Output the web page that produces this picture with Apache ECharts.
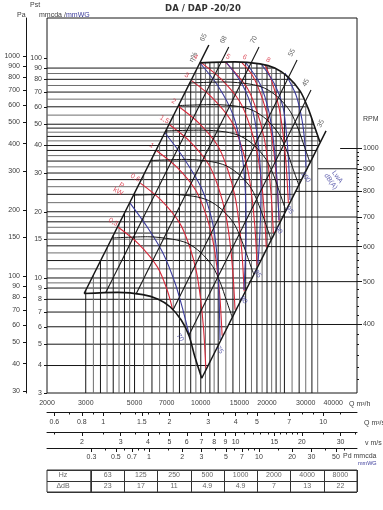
<!DOCTYPE html>
<html>
<head>
<meta charset="utf-8">
<title>DA / DAP -20/20</title>
<script src="https://cdn.jsdelivr.net/npm/echarts@6.0.0/dist/echarts.min.js"></script>
<style>
  html, body { margin: 0; padding: 0; background: #ffffff; }
  #chart { width: 383px; height: 510px; }
</style>
</head>
<body>
<div id="chart"></div>
<script>
// ======================= DATA =======================
const qRange   = [2000, 51300];   // Q m3/h (log)
const pRange   = [3, 152];         // Pst mmWG (log)
const rpmRange = [280, 1973];      // RPM scale (log)

const qTicks   = [2000, 3000, 5000, 7000, 10000, 15000, 20000, 30000, 40000];
const qsTicks  = [0.6, 0.8, 1, 1.5, 2, 3, 4, 5, 7, 10];
const qsMinor  = [0.7, 0.9, 1.2, 1.4, 1.6, 1.8, 2.5, 3.5, 4.5, 6, 8, 9, 12];
const vTicks   = [2, 3, 4, 5, 6, 7, 8, 9, 10, 15, 20, 30];
const vMinor   = [1.5, 2.5, 3.5, 4.5, 11, 12, 13, 14, 16, 17, 18, 19, 25, 35];
const pdTicks  = [0.3, 0.5, 0.7, 1, 2, 3, 5, 7, 10, 20, 30, 50];
const pdMinor  = [0.4, 0.6, 0.8, 0.9, 1.5, 4, 6, 8, 9, 15, 40, 60];
const pstTicks = [3, 4, 5, 6, 7, 8, 9, 10, 15, 20, 30, 40, 50, 60, 70, 80, 90, 100];
const paTicks  = [30, 40, 50, 60, 70, 80, 90, 100, 150, 200, 300, 400, 500, 600, 700, 800, 900, 1000];
const rpmTicks = [400, 500, 600, 700, 800, 900, 1000];
const rpmMinor = [300, 320, 340, 360, 380, 420, 440, 460, 480, 520, 540, 560, 580, 620, 640, 660, 680,
                  720, 740, 760, 780, 820, 840, 860, 880, 920, 940, 960, 980];

const gridP = [4, 5, 6, 7, 8, 9, 9.5, 10, 11, 12, 13, 14, 15, 16, 17, 18, 19, 20, 22, 24, 26, 28, 30,
               32, 34, 36, 38, 40, 42, 44, 46, 48, 50, 55, 60, 65, 70, 75, 80, 85, 90];
const gridPDark = [4, 5, 6, 7, 8, 9, 10, 12, 14, 16, 18, 20, 24, 28, 30, 34, 38, 40, 44, 48, 50, 60, 70, 80, 90];
const gridQ = [3000, 3250, 3500, 3750, 4000, 4250, 4500, 4750, 5000, 5500, 6000, 6500, 7000, 7500, 8000,
               8500, 9000, 9500, 10000, 10500, 11000, 11500, 12000, 13000, 14000, 15000, 16000, 17000,
               18000, 19000, 20000, 21000, 22000, 23000, 24000, 26000, 28000, 30000, 32000, 34000];

const fanRpm = [1000, 900, 800, 700, 600, 500, 400, 300];
const fanCurvePts = [
  [[9900,95],[14300,96],[18600,94],[21700,90],[24900,82],[28300,70.7],[30700,59.3],[32700,49.6],[34800,41.5]],
  [[8910,77.0],[12870,77.8],[16740,76.1],[19530,72.9],[22410,66.4],[25470,57.3],[27630,48.0],[29430,40.2],[31320,33.6]],
  [[7920,60.8],[11440,61.4],[14880,60.2],[17360,57.6],[19920,52.5],[22640,45.2],[24560,38.0],[26160,31.7],[27840,26.6]],
  [[6930,46.6],[10010,47.0],[13020,46.1],[15190,44.1],[17430,40.2],[19810,34.6],[21490,29.1],[22890,24.3],[24360,20.3]],
  [[5940,34.2],[8580,34.6],[11160,33.8],[13020,32.4],[14940,29.5],[16980,25.5],[18420,21.3],[19620,17.9],[20880,14.9]],
  [[4950,23.8],[7150,24.0],[9300,23.5],[10850,22.5],[12450,20.5],[14150,17.7],[15350,14.8],[16350,12.4],[17400,10.4]],
  [[3960,15.2],[5720,15.4],[7440,15.0],[8680,14.4],[9960,13.1],[11320,11.3],[12280,9.5],[13080,7.9],[13920,6.6]],
  [[2950,8.5],[4200,8.6],[5450,8.4],[6400,8.0],[7250,7.4],[8150,6.44],[8850,5.45],[9400,4.38],[10100,3.5]]
];

const etaLabels = ['65', '68', '70', '55', '45', '35'];
const etaLinePts = [
  [[2950,8.5],[10880,114.6]],
  [[3700,8.6],[13400,112.2]],
  [[5080,8.45],[18400,112.2]],
  [[7480,7.16],[27400,97.9]],
  [[8840,5.51],[31700,71.5]],
  [[10100,3.5],[37100,46.6]]
];

const powerLabels = ['0,3', '0,6', '1', '1,5', '2', '3', '4', '5', '6', '8'];
const powerCurvePts = [
  [[4217,17.0],[5212,14.3],[6359,11.2],[7059,8.73],[7455,7.15]],
  [[5313,27.0],[6567,22.7],[8012,17.8],[8894,13.9],[9569,10.6],[9978,8.05],[10297,5.87],[10546,3.89]],
  [[6300,37.9],[7787,31.9],[9500,25.0],[10546,19.5],[11346,14.8],[11831,11.3],[12209,8.26],[12506,5.47]],
  [[7211,49.7],[8913,41.8],[10874,32.8],[12071,25.5],[12987,19.4],[13542,14.8],[13975,10.8],[14314,7.17]],
  [[7937,60.2],[9810,50.6],[11969,39.8],[13287,30.9],[14295,23.6],[14905,18.0],[15382,13.1],[15755,8.69]],
  [[9087,78.9],[11232,66.3],[13703,52.1],[15211,40.5],[16366,30.9],[17065,23.5],[17611,17.2],[18038,11.4]],
  [[10000,95.5],[12360,80.3],[15080,63.1],[16740,49.1],[18010,37.4],[18780,28.5],[19380,20.8],[19850,13.8]],
  [[12860,95.8],[13314,93.1],[16244,73.2],[18032,57.0],[19401,43.4],[20230,33.1],[20876,24.1],[21382,16.0]],
  [[15330,95.5],[17262,82.7],[19162,64.3],[20616,49.0],[21498,37.3],[22184,27.3],[22722,18.1]],
  [[19610,92.8],[21092,77.9],[22693,59.4],[23663,45.2],[24419,33.0],[25011,21.9]]
];

const noiseLabels = ['70', '75', '80', '85', '90', '95', '100'];
const noiseCurvePts = [
  [[4770,21.9],[5700,17.1],[6730,13.0],[7640,9.49],[8300,7.15],[8930,5.34]],
  [[6880,45.6],[8300,35.5],[10020,25.9],[11250,18.3],[11850,12.7],[12100,8.37],[12230,5.23]],
  [[9920,94.9],[11980,74.6],[14020,55.1],[15240,39.0],[15890,26.5],[16060,16.5],[15720,8.82]],
  [[13020,95.9],[15400,76.2],[17270,56.8],[18390,38.2],[18780,25.1],[18590,16.5],[18200,11.6]],
  [[16060,94.9],[18590,76.2],[20420,56.8],[21520,40.2],[22210,27.9],[22680,18.3]],
  [[18980,92.9],[21750,75.4],[23650,59.9],[24660,42.4],[25180,31.0],[25440,22.6]],
  [[24150,85.5],[27090,67.9],[28850,52.3],[29770,40.2],[30080,31.9]]
];

const rpmLineRpm    = [1000, 900, 800, 700, 600, 500, 400];
const rpmLineStartQ = [43000, 34100, 26800, 23300, 19900, 16600, 13300];

const hzBands = ['63', '125', '250', '500', '1000', '2000', '4000', '8000'];
const deltaDb = ['23', '17', '11', '4.9', '4.9', '7', '13', '22'];
const tableRowNames = ['Hz', '\u0394dB'];

const MMWG_TO_PA = 9.80665;
const OUTLET_AREA = 0.4;    // m2  (v = Q / area)
const PD_COEF = 0.0613;     // mmWG per (m/s)^2

// ======================= RENDERING =======================
const FONT = '"Liberation Sans", Arial, sans-serif';
const TXT = '#3c3c3c', BLACK = '#161616', GREY = '#6e6e6e', RED = '#d62839', BLUE = '#3c3c9c';
const L = Math.log10;
const toXY = (pt) => [L(pt[0]), L(pt[1])];

function labelFmt(list) {
  return function (v) {
    for (const t of list) if (Math.abs(L(t) - v) < 1e-6) return String(t);
    return '';
  };
}
function logInterp(x, x0, y0, x1, y1) {
  const t = (L(x) - L(x0)) / (L(x1) - L(x0));
  return Math.pow(10, L(y0) + t * (L(y1) - L(y0)));
}
function upperBoundaryP(q) {
  const top = fanCurvePts[0];
  if (q <= top[0][0]) { const a = etaLinePts[0][0], b = etaLinePts[0][1]; return logInterp(q, a[0], a[1], b[0], b[1]); }
  for (let i = 0; i < top.length - 1; i++) {
    const a = top[i], b = top[i + 1];
    if (q >= a[0] && q <= b[0]) return logInterp(q, a[0], a[1], b[0], b[1]);
  }
  return null;
}
function rightBoundaryQ(p) {
  const top = fanCurvePts[0];
  const end = top[top.length - 1];
  if (p >= end[1]) {
    for (let i = top.length - 1; i > 0; i--) {
      const a = top[i], b = top[i - 1];
      if (p >= a[1] && p <= b[1]) return logInterp(p, a[1], a[0], b[1], b[0]);
    }
    return top[1][0];
  }
  const r = etaLinePts[etaLinePts.length - 1];
  return logInterp(p, r[0][1], r[0][0], r[1][1], r[1][0]);
}

function valAxis(o) {
  return Object.assign({
    type: 'value', splitLine: { show: false }, axisLine: { show: false, onZero: false },
    axisTick: { show: false }, axisLabel: { show: false }
  }, o);
}
function lbl(list, margin, extra) {
  return Object.assign({ show: true, customValues: list.map(L), formatter: labelFmt(list), margin: margin,
    fontSize: 7, color: TXT, fontFamily: FONT }, extra || {});
}
function tck(list, len) {
  return { show: true, customValues: list.map(L), length: len, lineStyle: { color: BLACK, width: 1 } };
}

const qsRange = [qRange[0] / 3600, qRange[1] / 3600];
const vRange  = [qsRange[0] / OUTLET_AREA, qsRange[1] / OUTLET_AREA];
const pdRange = [PD_COEF * vRange[0] * vRange[0], PD_COEF * vRange[1] * vRange[1]];
const AXLINE = { show: true, onZero: false, lineStyle: { color: BLACK, width: 1 } };
const NOLINE = { show: false, onZero: false };

const xAxes = [
  valAxis({ gridIndex: 0, position: 'bottom', min: L(qRange[0]), max: L(qRange[1]), axisLine: NOLINE, axisLabel: lbl(qTicks, 7) }),
  valAxis({ gridIndex: 0, position: 'bottom', offset: 19, min: L(qsRange[0]), max: L(qsRange[1]),
            axisLine: AXLINE, axisTick: tck(qsTicks, 4), axisLabel: lbl(qsTicks, 7) }),
  valAxis({ gridIndex: 0, position: 'bottom', offset: 19, min: L(qsRange[0]), max: L(qsRange[1]), axisLine: NOLINE, axisTick: tck(qsMinor, 2.5) }),
  valAxis({ gridIndex: 0, position: 'bottom', offset: 39, min: L(vRange[0]), max: L(vRange[1]),
            axisLine: AXLINE, axisTick: tck(vTicks, 4), axisLabel: lbl(vTicks, 7) }),
  valAxis({ gridIndex: 0, position: 'bottom', offset: 39, min: L(vRange[0]), max: L(vRange[1]), axisLine: NOLINE, axisTick: tck(vMinor, 2.5) }),
  valAxis({ gridIndex: 0, position: 'bottom', offset: 55, min: L(pdRange[0]), max: L(pdRange[1]),
            axisLine: AXLINE, axisTick: tck(pdTicks, 4), axisLabel: lbl(pdTicks, 6) }),
  valAxis({ gridIndex: 0, position: 'bottom', offset: 55, min: L(pdRange[0]), max: L(pdRange[1]), axisLine: NOLINE, axisTick: tck(pdMinor, 2.5) }),
  { type: 'category', gridIndex: 1, data: ['h'], axisLine: NOLINE, axisTick: { show: false }, axisLabel: { show: false }, splitLine: { show: false } },
  { type: 'category', gridIndex: 2, data: hzBands, axisLine: NOLINE, axisTick: { show: false }, axisLabel: { show: false },
    splitLine: { show: true, interval: 0, lineStyle: { color: '#333', width: 1 } } }
];
const yAxes = [
  valAxis({ gridIndex: 0, position: 'left', min: L(pRange[0]), max: L(pRange[1]), axisLine: NOLINE, axisTick: tck(pstTicks, 3), axisLabel: lbl(pstTicks, 5) }),
  valAxis({ gridIndex: 0, position: 'left', offset: 21, min: L(pRange[0] * MMWG_TO_PA), max: L(pRange[1] * MMWG_TO_PA),
            axisLine: AXLINE, axisTick: tck(paTicks, 3), axisLabel: lbl(paTicks, 6) }),
  valAxis({ gridIndex: 0, position: 'right', min: L(rpmRange[0]), max: L(rpmRange[1]), axisLine: NOLINE, axisTick: tck(rpmTicks, 5), axisLabel: lbl(rpmTicks, 6) }),
  valAxis({ gridIndex: 0, position: 'right', min: L(rpmRange[0]), max: L(rpmRange[1]), axisLine: NOLINE, axisTick: tck(rpmMinor, 2) }),
  { type: 'category', gridIndex: 1, data: tableRowNames, inverse: true, axisLine: NOLINE, axisTick: { show: false }, axisLabel: { show: false },
    splitLine: { show: true, interval: 0, lineStyle: { color: '#333', width: 1 } } },
  { type: 'category', gridIndex: 2, data: tableRowNames, inverse: true, axisLine: NOLINE, axisTick: { show: false }, axisLabel: { show: false },
    splitLine: { show: true, interval: 0, lineStyle: { color: '#333', width: 1 } } }
];

const series = [];
function addLine(pts, color, width, z, extra) {
  series.push(Object.assign({
    type: 'line', xAxisIndex: 0, yAxisIndex: 0, data: pts.map(toXY), symbol: 'none',
    silent: true, animation: false, z: z, lineStyle: { color: color, width: width }
  }, extra || {}));
}

gridP.forEach(function (p) {
  const qr = rightBoundaryQ(p);
  addLine([[qRange[0], p], [qr, p]], gridPDark.indexOf(p) >= 0 ? BLACK : GREY, 1, 1);
});
gridQ.forEach(function (q, i) {
  if (q < etaLinePts[0][0][0]) return;
  const pt = upperBoundaryP(q);
  if (pt === null) return;
  addLine([[q, pRange[0]], [q, pt]], i % 2 === 0 ? BLACK : GREY, 1, 1);
});
rpmLineRpm.forEach(function (n, i) {
  series.push({ type: 'line', xAxisIndex: 0, yAxisIndex: 2, symbol: 'none', silent: true, animation: false, z: 2,
    data: [[L(rpmLineStartQ[i]), L(n)], [L(qRange[1]), L(n)]], lineStyle: { color: BLACK, width: 1 } });
});
powerCurvePts.forEach(function (c) { addLine(c, RED, 1.1, 3, { smooth: 0.3 }); });
noiseCurvePts.forEach(function (c) { addLine(c, BLUE, 1.1, 3, { smooth: 0.3 }); });
fanCurvePts.forEach(function (c, i) {
  const border = (i === 0 || i === fanCurvePts.length - 1);
  addLine(c, BLACK, border ? 1.6 : 1, 4, { smooth: 0.3 });
});
etaLinePts.forEach(function (c, i) {
  const border = (i === 0 || i === etaLinePts.length - 1);
  addLine(c, BLACK, border ? 1.5 : 1.1, 4);
});

function labelSeries(items, style) {
  return { type: 'scatter', xAxisIndex: 0, yAxisIndex: 0, symbol: 'circle', symbolSize: 1, silent: true,
    animation: false, z: 6, itemStyle: { color: 'rgba(0,0,0,0)' },
    label: Object.assign({ show: true, position: 'inside', fontFamily: FONT }, style), data: items };
}
const etaItems = etaLinePts.map(function (c, i) {
  return { value: toXY(c[1]), label: { formatter: etaLabels[i] } };
});
etaItems.push({ value: toXY(etaLinePts[0][1]), label: { formatter: '\u03b7%', offset: [-18, -8] } });
series.push(labelSeries(etaItems, { fontSize: 7, color: TXT, rotate: 62, offset: [4, -8] }));

const topStartQ = fanCurvePts[0][0][0] * 1.05;
const powerItems = powerCurvePts.map(function (c, i) {
  const onTop = c[0][0] > topStartQ;
  return { value: toXY(c[0]), label: { formatter: powerLabels[i], offset: onTop ? [0, -6] : [-7, -2] } };
});
powerItems.push({ value: toXY(powerCurvePts[1][0]), label: { formatter: 'P\nkW', offset: [-15, 15], lineHeight: 7 } });
series.push(labelSeries(powerItems, { fontSize: 7, color: RED, rotate: -30 }));

const vertexQ = fanCurvePts[fanCurvePts.length - 1][fanCurvePts[fanCurvePts.length - 1].length - 1][0];
const noiseItems = noiseCurvePts.map(function (c, i) {
  const e = c[c.length - 1];
  return { value: toXY(e), label: { formatter: noiseLabels[i], offset: e[0] < vertexQ ? [-6, 8] : [8, 6] } };
});
const n100 = noiseCurvePts[noiseCurvePts.length - 1];
noiseItems.push({ value: toXY(n100[n100.length - 1]), label: { formatter: 'LwA\ndB(A)', offset: [26, -16], lineHeight: 8 } });
series.push(labelSeries(noiseItems, { fontSize: 7, color: BLUE, rotate: -55 }));

const tableItems = [];
hzBands.forEach(function (h, i) { tableItems.push({ value: [i, 0], label: { formatter: h } }); });
deltaDb.forEach(function (d, i) { tableItems.push({ value: [i, 1], label: { formatter: d } }); });
series.push({ type: 'scatter', xAxisIndex: 8, yAxisIndex: 5, symbolSize: 1, silent: true, animation: false,
  itemStyle: { color: 'rgba(0,0,0,0)' },
  label: { show: true, position: 'inside', fontSize: 7, color: TXT, fontFamily: FONT }, data: tableItems });
series.push({ type: 'scatter', xAxisIndex: 7, yAxisIndex: 4, symbolSize: 1, silent: true, animation: false,
  itemStyle: { color: 'rgba(0,0,0,0)' },
  label: { show: true, position: 'inside', fontSize: 7, color: TXT, fontFamily: FONT, offset: [-6, 0] },
  data: tableRowNames.map(function (r, i) { return { value: [0, i], label: { formatter: r } }; }) });

function txt(x, y, text, size, color, extra) {
  return { type: 'text', x: x, y: y, silent: true, z: 10,
    style: Object.assign({ text: text, fontSize: size, fontFamily: FONT, fill: color,
      textAlign: 'left', align: 'left', textVerticalAlign: 'middle', verticalAlign: 'middle' }, extra || {}) };
}

const option = {
  animation: false,
  backgroundColor: '#ffffff',
  grid: [
    { left: 47, top: 18, width: 310, height: 375, containLabel: false, outerBoundsMode: 'none',
      show: true, borderColor: BLACK, borderWidth: 1, backgroundColor: 'transparent' },
    { left: 47, top: 470, width: 44, height: 22, containLabel: false, outerBoundsMode: 'none',
      show: true, borderColor: '#333', borderWidth: 1, backgroundColor: '#fff' },
    { left: 91, top: 470, width: 266, height: 22, containLabel: false, outerBoundsMode: 'none',
      show: true, borderColor: '#333', borderWidth: 1, backgroundColor: '#fff' }
  ],
  xAxis: xAxes,
  yAxis: yAxes,
  series: series,
  graphic: [
    txt(203, 9, 'DA / DAP -20/20', 8.5, '#333', { textAlign: 'center', align: 'center', fontWeight: 'bold', fontFamily: '"DejaVu Sans", sans-serif' }),
    txt(30, 5, 'Pst', 7, TXT),
    txt(17, 15, 'Pa', 7, TXT),
    txt(39, 15, 'mmcda /', 7, TXT),
    txt(66, 15, 'mmWG', 7, BLUE),
    txt(363, 119, 'RPM', 7, TXT),
    txt(349, 404, 'Q m\u00b3/h', 7, TXT),
    txt(364, 423, 'Q m\u00b3/s', 7, TXT),
    txt(365, 443, 'v m/s', 7, TXT),
    txt(343, 456, 'Pd mmcda', 7, TXT),
    txt(358, 463, 'mmWG', 5.5, BLUE)
  ]
};

const chart = echarts.init(document.getElementById('chart'), null, { renderer: 'canvas', width: 383, height: 510 });
chart.setOption(option);
</script>
</body>
</html>
